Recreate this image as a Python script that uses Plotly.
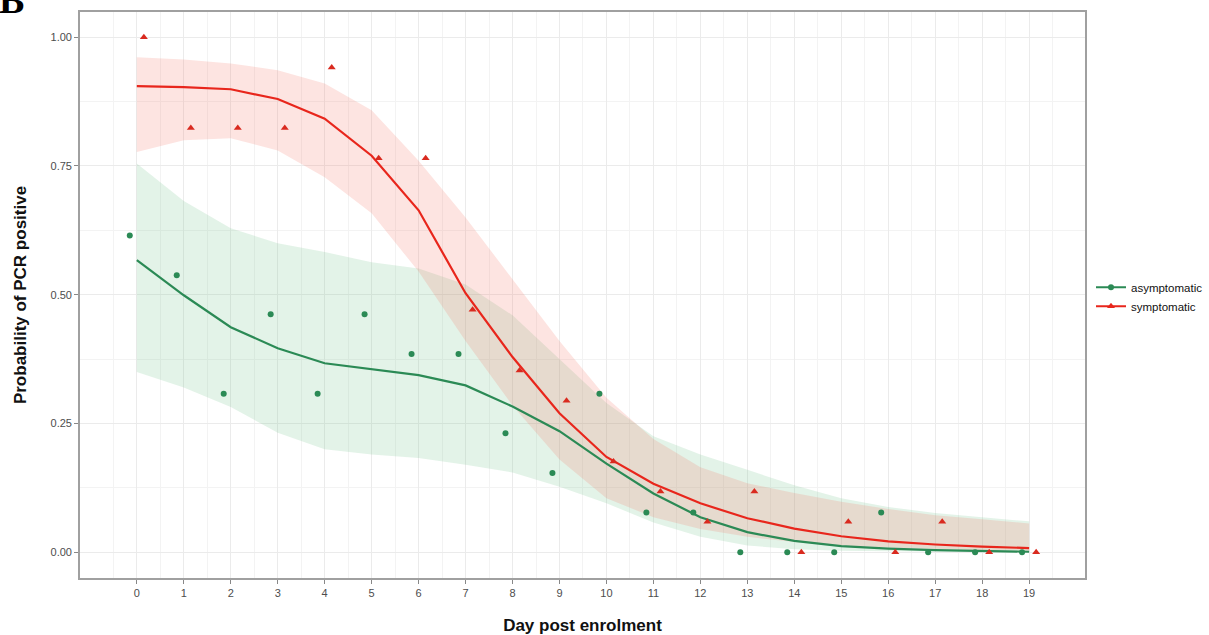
import plotly.graph_objects as go

days = list(range(20))

# observed proportions
asym_obs = [0.615, 0.538, 0.308, 0.462, 0.308, 0.462, 0.385, 0.385, 0.231, 0.154,
            0.308, 0.077, 0.077, 0.0, 0.0, 0.0, 0.077, 0.0, 0.0, 0.0]
sym_obs = [1.0, 0.824, 0.824, 0.824, 0.941, 0.765, 0.765, 0.471, 0.353, 0.294,
           0.176, 0.118, 0.059, 0.118, 0.0, 0.059, 0.0, 0.059, 0.0, 0.0]

# fitted curves with confidence bands
asym_fit = [0.567, 0.499, 0.437, 0.396, 0.367, 0.355, 0.344, 0.324, 0.283, 0.235,
            0.172, 0.114, 0.068, 0.039, 0.022, 0.012, 0.007, 0.004, 0.002, 0.001]
asym_lo = [0.35, 0.32, 0.282, 0.232, 0.20, 0.19, 0.183, 0.17, 0.155, 0.127,
           0.095, 0.058, 0.03, 0.013, 0.006, 0.003, 0.002, 0.001, 0.0005, 0.0002]
asym_hi = [0.755, 0.682, 0.629, 0.60, 0.583, 0.563, 0.551, 0.52, 0.46, 0.375,
           0.29, 0.225, 0.19, 0.16, 0.13, 0.105, 0.088, 0.076, 0.068, 0.06]

sym_fit = [0.905, 0.903, 0.899, 0.88, 0.842, 0.77, 0.664, 0.503, 0.379, 0.27,
           0.185, 0.133, 0.095, 0.066, 0.046, 0.031, 0.021, 0.015, 0.011, 0.008]
sym_lo = [0.777, 0.80, 0.804, 0.78, 0.728, 0.658, 0.545, 0.41, 0.285, 0.18,
          0.105, 0.068, 0.045, 0.03, 0.02, 0.013, 0.009, 0.006, 0.004, 0.003]
sym_hi = [0.961, 0.957, 0.949, 0.936, 0.91, 0.858, 0.76, 0.65, 0.53, 0.41,
          0.30, 0.22, 0.165, 0.134, 0.115, 0.098, 0.084, 0.072, 0.064, 0.056]

x_ticks = list(range(20))
y_ticks = [0.0, 0.25, 0.5, 0.75, 1.0]
y_tick_labels = ["0.00", "0.25", "0.50", "0.75", "1.00"]

GREEN = "#2b8a55"
RED = "#e8261c"
GREEN_FILL = "rgba(115,195,140,0.2)"
RED_FILL = "rgba(245,120,105,0.2)"
DODGE = 0.15

fig = go.Figure()

# ribbons
for lo, hi, fill in [(asym_lo, asym_hi, GREEN_FILL), (sym_lo, sym_hi, RED_FILL)]:
    fig.add_trace(go.Scatter(x=days, y=lo, mode="lines", line=dict(width=0),
                             showlegend=False, hoverinfo="skip"))
    fig.add_trace(go.Scatter(x=days, y=hi, mode="lines", line=dict(width=0),
                             fill="tonexty", fillcolor=fill,
                             showlegend=False, hoverinfo="skip"))

# fitted lines
fig.add_trace(go.Scatter(x=days, y=asym_fit, mode="lines", line=dict(color=GREEN, width=2.2),
                         showlegend=False))
fig.add_trace(go.Scatter(x=days, y=sym_fit, mode="lines", line=dict(color=RED, width=2.2),
                         showlegend=False))

# observed points (dodged)
fig.add_trace(go.Scatter(x=[d - DODGE for d in days], y=asym_obs, mode="markers",
                         marker=dict(color=GREEN, size=6, symbol="circle"),
                         showlegend=False))
fig.add_trace(go.Scatter(x=[d + DODGE for d in days], y=sym_obs, mode="markers",
                         marker=dict(color="#d92a1f", size=7, symbol="triangle-up"),
                         showlegend=False))

# legend entries
fig.add_trace(go.Scatter(x=[None], y=[None], mode="lines+markers", name="asymptomatic",
                         line=dict(color=GREEN, width=2), marker=dict(color=GREEN, size=6, symbol="circle")))
fig.add_trace(go.Scatter(x=[None], y=[None], mode="lines+markers", name="symptomatic",
                         line=dict(color=RED, width=2), marker=dict(color=RED, size=7, symbol="triangle-up")))

fig.add_annotation(text="<b>B</b>", xref="paper", yref="paper", x=-83/1005, y=(578-23)/566,
                   xanchor="left", yanchor="bottom", showarrow=False,
                   font=dict(family="Liberation Serif", size=38, color="black"))

fig.update_layout(
    width=1209, height=635, autosize=False,
    margin=dict(l=80, r=124, t=12, b=57),
    paper_bgcolor="white", plot_bgcolor="white",
    font=dict(family="Liberation Sans", color="#222"),
    legend=dict(xref="container", x=1091/1209, y=0.497, xanchor="left", yanchor="middle",
                traceorder="normal", font=dict(size=11.5, color="#111"),
                tracegroupgap=0, itemwidth=30),
    xaxis=dict(range=[-1.21, 20.19], tickvals=x_ticks, ticktext=[str(t) for t in x_ticks],
               automargin=False,
               showgrid=True, gridcolor="#ebebeb", gridwidth=1,
               minor=dict(dtick=1, tick0=0.5, showgrid=True, gridcolor="#f3f3f3", gridwidth=0.6),
               showline=True, linecolor="#a0a0a0", linewidth=1.6, mirror=True,
               ticks="outside", ticklen=4, tickcolor="#888",
               tickfont=dict(size=11, color="#4d4d4d"), zeroline=False,
               title=dict(text="<b>Day post enrolment</b>", font=dict(size=17, color="#111"), standoff=21)),
    yaxis=dict(range=[-0.05, 1.049], tickvals=y_ticks, ticktext=y_tick_labels,
               automargin=False,
               showgrid=True, gridcolor="#ebebeb", gridwidth=1,
               minor=dict(dtick=0.25, tick0=0.125, showgrid=True, gridcolor="#f3f3f3", gridwidth=0.6),
               showline=True, linecolor="#a0a0a0", linewidth=1.6, mirror=True,
               ticks="outside", ticklen=4, tickcolor="#888",
               tickfont=dict(size=11, color="#4d4d4d"), zeroline=False,
               title=dict(text="<b>Probability of PCR positive</b>", font=dict(size=17, color="#111"), standoff=20)),
)

fig.write_html(
    "out.html",
    config={"responsive": False, "displayModeBar": False},
    post_script="document.body.style.margin='0';document.body.style.overflow='hidden';",
)
